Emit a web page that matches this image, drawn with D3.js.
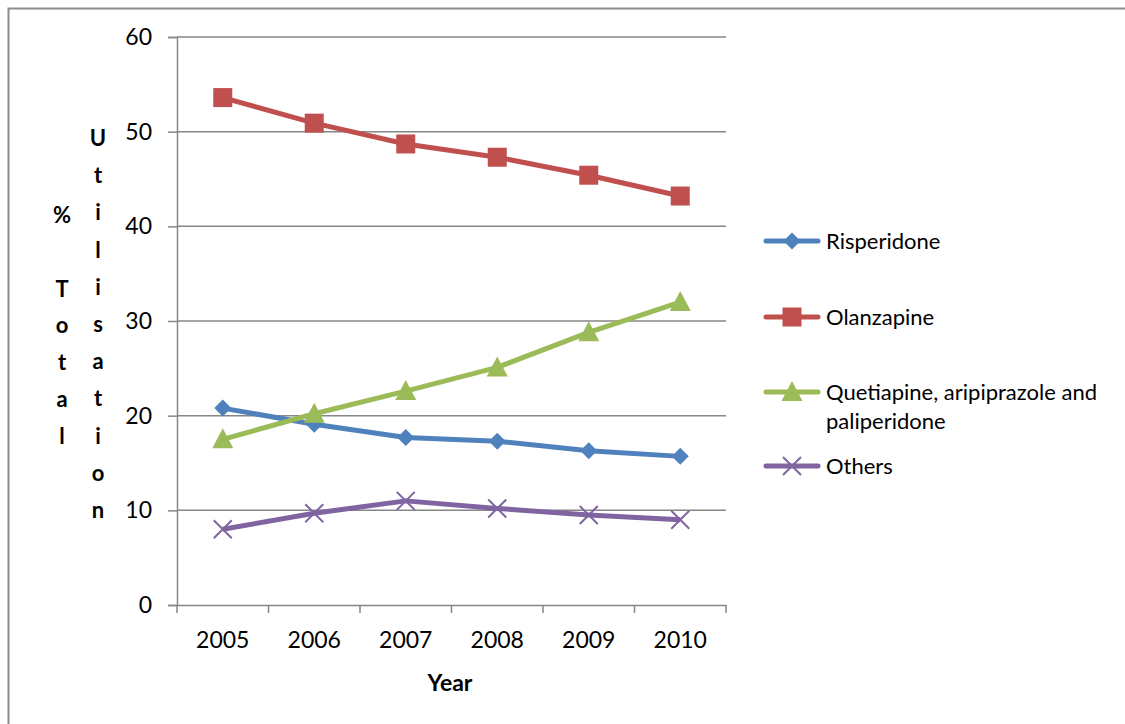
<!DOCTYPE html>
<html>
<head>
<meta charset="utf-8">
<script src="https://cdn.jsdelivr.net/npm/d3@7"></script>
<style>
  body { margin: 0; background: #fff; }
  text { font-family: "Lato", "Open Sans", sans-serif; fill: #000; }
</style>
</head>
<body>
<div id="chart"></div>
<script>
// Data
const years = ["2005", "2006", "2007", "2008", "2009", "2010"];
const risperidone = [20.8, 19.1, 17.7, 17.3, 16.3, 15.7];
const olanzapine = [53.6, 50.9, 48.7, 47.3, 45.4, 43.2];
const quetiapine = [17.5, 20.2, 22.6, 25.1, 28.8, 32.0];
const others = [8.0, 9.7, 11.0, 10.2, 9.5, 9.0];
const yTicks = [0, 10, 20, 30, 40, 50, 60];

const series = [
    { name: ["Risperidone"], values: risperidone, color: "#4F81BD", marker: "diamond" },
    { name: ["Olanzapine"], values: olanzapine, color: "#C0504D", marker: "square" },
    { name: ["Quetiapine, aripiprazole and", "paliperidone"], values: quetiapine, color: "#9BBB59", marker: "triangle" },
    { name: ["Others"], values: others, color: "#8064A2", marker: "x" }
];

const W = 1125, H = 724;
const plot = { left: 177, right: 726, top: 37, bottom: 605 };

const svg = d3.select("#chart").append("svg")
    .attr("width", W)
    .attr("height", H);

// outer chart border (runs off the bottom/right of the picture)
svg.append("rect")
    .attr("x", 8.5).attr("y", 8.5)
    .attr("width", W + 20).attr("height", H + 20)
    .attr("fill", "none")
    .attr("stroke", "#8c8c8c")
    .attr("stroke-width", 2);

const x = d3.scaleBand()
    .domain(years)
    .range([plot.left, plot.right]);

const y = d3.scaleLinear()
    .domain([0, 60])
    .range([plot.bottom, plot.top]);

// gridlines
svg.append("g")
    .selectAll("line")
    .data(yTicks.filter(d => d > 0))
    .join("line")
    .attr("x1", plot.left).attr("x2", plot.right)
    .attr("y1", d => y(d)).attr("y2", d => y(d))
    .attr("stroke", "#868686")
    .attr("stroke-width", 1.5);

// y axis
const yAxis = svg.append("g")
    .attr("transform", `translate(${plot.left},0)`)
    .call(d3.axisLeft(y).tickValues(yTicks).tickSize(9).tickPadding(16));
yAxis.select(".domain").attr("stroke", "#868686").attr("stroke-width", 1.5);
yAxis.selectAll(".tick line").attr("stroke", "#868686").attr("stroke-width", 1.5);
yAxis.selectAll(".tick text").style("font-size", "23px").attr("fill", "#000");

// x axis, ticks at band edges
const xAxis = svg.append("g")
    .attr("transform", `translate(0,${plot.bottom})`)
    .call(d3.axisBottom(x).tickSize(0).tickPadding(27));
xAxis.select(".domain").attr("stroke", "#868686").attr("stroke-width", 1.5);
xAxis.selectAll(".tick text").style("font-size", "23px").attr("fill", "#000");
xAxis.selectAll(".edge")
    .data(years.map(d => x(d)).concat([plot.right]))
    .join("line")
    .attr("x1", d => d).attr("x2", d => d)
    .attr("y1", 0).attr("y2", 8)
    .attr("stroke", "#868686")
    .attr("stroke-width", 1.5);

// x axis title
svg.append("text")
    .attr("x", 450).attr("y", 691)
    .attr("text-anchor", "middle")
    .style("font-size", "23px")
    .style("font-weight", "bold")
    .text("Year");

// y axis title: stacked letters in two columns
const col1 = "% Total".split("");
const col2 = "Utilisation".split("");
svg.append("g").selectAll("text")
    .data(col1)
    .join("text")
    .attr("x", 62)
    .attr("y", (d, i) => 223 + i * 36.8)
    .attr("text-anchor", "middle")
    .style("font-size", "22px")
    .style("font-weight", "bold")
    .text(d => d);
svg.append("g").selectAll("text")
    .data(col2)
    .join("text")
    .attr("x", 98)
    .attr("y", (d, i) => 146 + i * 37.2)
    .attr("text-anchor", "middle")
    .style("font-size", "22px")
    .style("font-weight", "bold")
    .text(d => d);

// marker drawing helper
function drawMarker(g, type, cx, cy, color) {
    if (type === "diamond") {
        g.append("path")
            .attr("d", `M${cx},${cy - 8.5}L${cx + 8.5},${cy}L${cx},${cy + 8.5}L${cx - 8.5},${cy}Z`)
            .attr("fill", color);
    } else if (type === "square") {
        g.append("rect")
            .attr("x", cx - 9.5).attr("y", cy - 9.5)
            .attr("width", 19).attr("height", 19)
            .attr("fill", color);
    } else if (type === "triangle") {
        g.append("path")
            .attr("d", `M${cx},${cy - 11}L${cx + 10.5},${cy + 9}L${cx - 10.5},${cy + 9}Z`)
            .attr("fill", color);
    } else {
        g.append("path")
            .attr("d", `M${cx - 9},${cy - 9}L${cx + 9},${cy + 9}M${cx - 9},${cy + 9}L${cx + 9},${cy - 9}`)
            .attr("stroke", color)
            .attr("stroke-width", 2)
            .attr("fill", "none");
    }
}

const line = d3.line()
    .x((d, i) => x(years[i]) + x.bandwidth() / 2)
    .y(d => y(d));

// lines + markers
series.forEach(s => {
    const g = svg.append("g");
    g.append("path")
        .datum(s.values)
        .attr("fill", "none")
        .attr("stroke", s.color)
        .attr("stroke-width", 5)
        .attr("stroke-linejoin", "round")
        .attr("d", line);
    s.values.forEach((v, i) => {
        drawMarker(g, s.marker, x(years[i]) + x.bandwidth() / 2, y(v), s.color);
    });
});

// legend
const legendY = [241, 317, 392, 466];
series.forEach((s, i) => {
    const g = svg.append("g");
    const ly = legendY[i];
    g.append("line")
        .attr("x1", 766).attr("x2", 818)
        .attr("y1", ly).attr("y2", ly)
        .attr("stroke", s.color)
        .attr("stroke-width", 5)
        .attr("stroke-linecap", "round");
    drawMarker(g, s.marker, 792, ly, s.color);
    s.name.forEach((t, j) => {
        g.append("text")
            .attr("x", 826)
            .attr("y", ly + 8 + j * 29)
            .style("font-size", "22px")
            .text(t);
    });
});
</script>
</body>
</html>
